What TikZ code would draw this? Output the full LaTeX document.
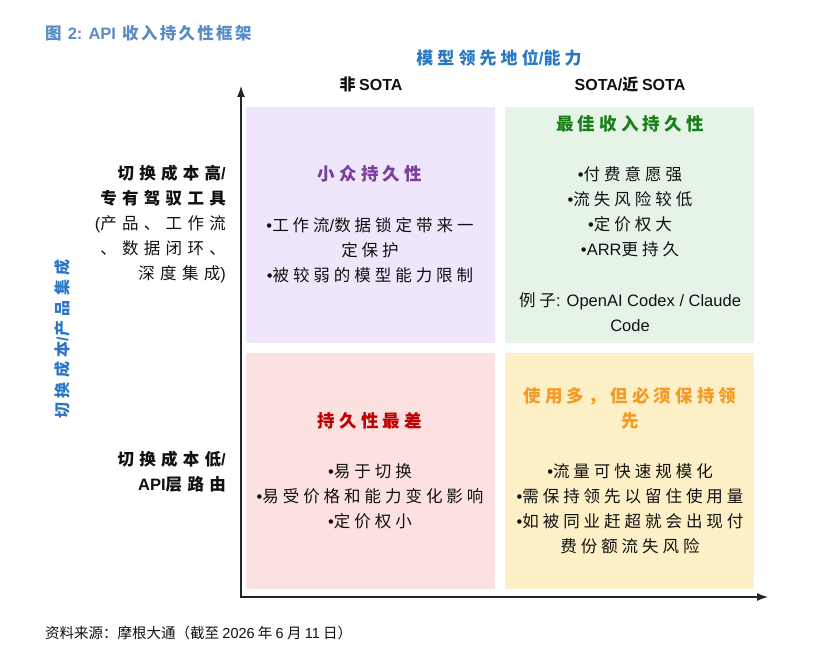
\documentclass[tikz,border=0pt]{standalone}
\usepackage{fontspec}
\setmainfont{Liberation Sans}
\newfontfamily\latf{Liberation Sans}
\newfontfamily\cjk[LetterSpace=24]{Noto Sans CJK SC}
\newfontfamily\cjks[LetterSpace=32]{Noto Sans CJK SC}
\newfontfamily\cjkt[LetterSpace=14]{Noto Sans CJK SC}
\newfontfamily\cjkv[LetterSpace=28]{Noto Sans CJK SC}
\newfontfamily\cjkp{Noto Sans CJK SC}
\newcommand\lat[1]{{\latf #1}}
\newcommand\bul{{\latf •}}
\definecolor{titleblue}{HTML}{5B8BC6}
\definecolor{axisblue}{HTML}{2A78C4}
\definecolor{tlfill}{HTML}{F0E6FB}
\definecolor{trfill}{HTML}{E6F4E7}
\definecolor{blfill}{HTML}{FDE0E0}
\definecolor{brfill}{HTML}{FDF0C6}
\definecolor{tlhead}{HTML}{7A3E9D}
\definecolor{trhead}{HTML}{1A7F1A}
\definecolor{blhead}{HTML}{C00000}
\definecolor{brhead}{HTML}{F59A23}
\definecolor{bodytext}{HTML}{111111}
\usetikzlibrary{arrows.meta}
\tikzset{
  quad/.style={draw=none, minimum width=249pt, minimum height=236pt, anchor=north west, inner sep=0pt},
  head/.style={font=\fontsize{17.5}{25}\selectfont\cjk\bfseries, align=center, inner sep=0pt},
  body/.style={font=\fontsize{16.5}{25}\selectfont\cjk, text=bodytext, align=center, inner sep=0pt},
  side/.style={font=\fontsize{16.5}{25}\selectfont\cjks, text=bodytext, align=right, anchor=east, inner sep=0pt},
  colhead/.style={font=\fontsize{16}{20}\selectfont\bfseries\cjkp, text=bodytext, inner sep=0pt},
  axisline/.style={line width=1.1pt, draw=black!85, {Latex[length=11pt,width=8pt]}-{Latex[length=11pt,width=8pt]}}
}
\begin{document}
\begin{tikzpicture}[x=1pt,y=-1pt]
\useasboundingbox (0,0) rectangle (834,663);
% title
\node[anchor=west, inner sep=0pt, text=titleblue, font=\fontsize{16.5}{20}\selectfont\bfseries\cjkt] (title) at (45,33) {图 \lat{2: API} 收入持久性框架};
% top axis label and column headers
\node[inner sep=0pt, text=axisblue, font=\fontsize{17}{20}\selectfont\bfseries\cjk] (xlabel) at (499,58) {模型领先地位\lat{/}能力};
\node[colhead] (c1) at (371,84) {非 \lat{SOTA}};
\node[colhead] (c2) at (630,84) {\lat{SOTA/}近 \lat{SOTA}};
% vertical label
\node[rotate=90, inner sep=0pt, text=axisblue, font=\fontsize{16}{20}\selectfont\bfseries\cjkv] (ylabel) at (62,339) {切换成本\lat{/}产品集成};
% row labels
\node[side] (r1) at (226,224.5) {{\bfseries 切换成本高\lat{/}}\\{\bfseries 专有驾驭工具}\\\lat{(}产品、工作流\\、数据闭环、\\深度集成\lat{)}};
\node[side] (r2) at (226,472) {{\bfseries 切换成本低\lat{/}}\\{\bfseries\lat{API}层路由}};
% quadrants
\node[quad, fill=tlfill] (tl) at (246,107) {};
\node[quad, fill=trfill] (tr) at (505,107) {};
\node[quad, fill=blfill] (bl) at (246,353) {};
\node[quad, fill=brfill] (br) at (505,353) {};
% top-left
\node[head, text=tlhead] (tlh) at (370,174) {小众持久性};
\node[body] (tlb) at (370,250) {\bul 工作流\lat{/}数据锁定带来一\\定保护\\\bul 被较弱的模型能力限制};
% top-right
\node[head, text=trhead] (trh) at (630,124) {最佳收入持久性};
\node[body] (trb) at (630,211.5) {\bul 付费意愿强\\\bul 流失风险较低\\\bul 定价权大\\\bul\lat{ARR}更持久};
\node[body] (tre) at (630,312) {例子\lat{: OpenAI Codex / Claude}\\\lat{Code}};
% bottom-left
\node[head, text=blhead] (blh) at (370,421) {持久性最差};
\node[body] (blb) at (370,496) {\bul 易于切换\\\bul 易受价格和能力变化影响\\\bul 定价权小};
% bottom-right
\node[head, text=brhead] (brh) at (630,408.5) {使用多，但必须保持领\\先};
\node[body] (brb) at (630,509) {\bul 流量可快速规模化\\\bul 需保持领先以留住使用量\\\bul 如被同业赶超就会出现付\\费份额流失风险};
% axes
\coordinate (ytop) at (241,86);
\coordinate (origin) at (241,597);
\coordinate (xend) at (768,597);
\draw[axisline] (ytop) -- (origin) -- (xend);
% footer
\node[anchor=west, inner sep=0pt, text=bodytext, font=\fontsize{14.5}{16}\selectfont\cjkp] (src) at (45,633) {资料来源：摩根大通（截至 \lat{2026} 年 \lat{6} 月 \lat{11} 日）};
\end{tikzpicture}
\end{document}
